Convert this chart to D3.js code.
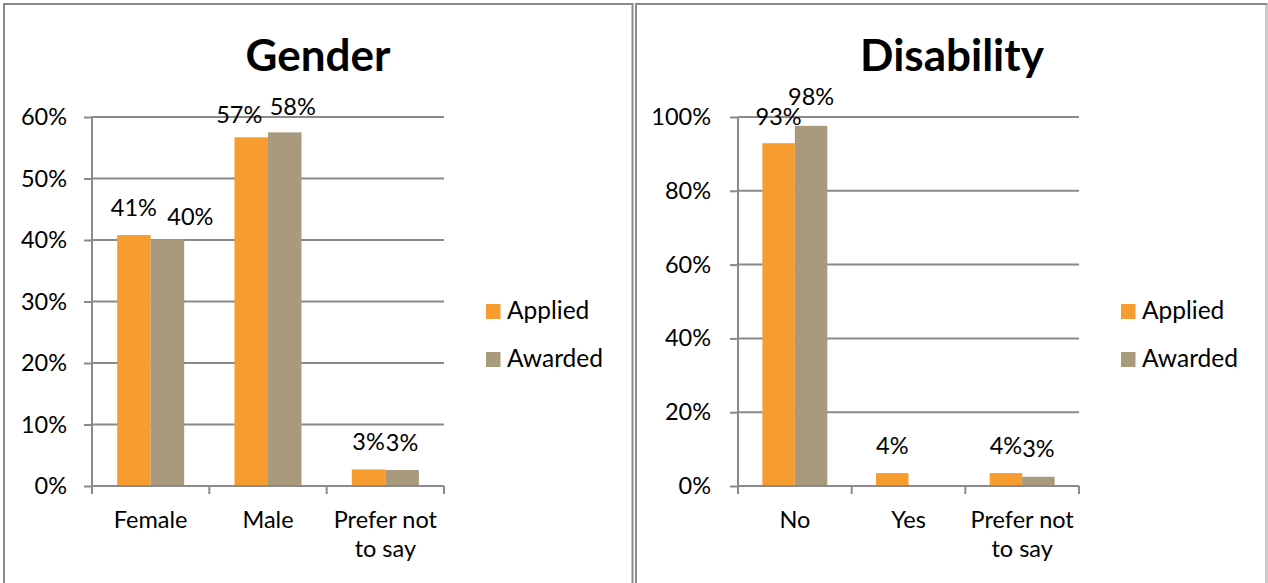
<!DOCTYPE html>
<html>
<head>
<meta charset="utf-8">
<script src="https://cdn.jsdelivr.net/npm/d3@7"></script>
<style>
  body { margin: 0; background: #fff; }
  svg { display: block; font-family: Lato, "Open Sans", sans-serif; }
</style>
</head>
<body>
<svg id="chart" width="1268" height="583"></svg>
<script>
// data
const series = ["Applied", "Awarded"];
const colors = ["#f79c2f", "#a99a7e"];

const genderCats = ["Female", "Male", "Prefer not to say"];
const genderApplied = [40.8, 56.7, 2.7];
const genderAwarded = [40.1, 57.5, 2.6];
const genderTicks = [0, 10, 20, 30, 40, 50, 60];

const disabilityCats = ["No", "Yes", "Prefer not to say"];
const disabilityApplied = [92.9, 3.5, 3.5];
const disabilityAwarded = [97.6, null, 2.5];
const disabilityTicks = [0, 20, 40, 60, 80, 100];

const svg = d3.select("#chart");
const gridColor = "#8a8a8a";

// frames round each chart
svg.append("rect").attr("x", 4).attr("y", 4).attr("width", 628.5).attr("height", 620)
  .attr("fill", "none").attr("stroke", gridColor).attr("stroke-width", 2);
svg.append("path").attr("d", "M636,620V4H1266.5V620")
  .attr("fill", "none").attr("stroke", gridColor).attr("stroke-width", 2);
svg.append("line").attr("x1", 1266.5).attr("x2", 1266.5).attr("y1", 5).attr("y2", 620)
  .attr("stroke", "#cfcfcf").attr("stroke-width", 2);

function wrap(text, width) {
  text.each(function () {
    const t = d3.select(this);
    const words = t.text().split(/\s+/);
    const y = t.attr("y"), dy = parseFloat(t.attr("dy"));
    let line = [], lineNo = 0;
    let tspan = t.text(null).append("tspan").attr("x", 0).attr("y", y).attr("dy", dy + "em");
    words.forEach(w => {
      line.push(w);
      tspan.text(line.join(" "));
      if (tspan.node().getComputedTextLength() > width && line.length > 1) {
        line.pop();
        tspan.text(line.join(" "));
        line = [w];
        tspan = t.append("tspan").attr("x", 0).attr("y", y)
          .attr("dy", (++lineNo * 1.24 + dy) + "em").text(w);
      }
    });
  });
}

function drawChart(cfg) {
  const g = svg.append("g");
  const rows = cfg.cats.map((c, i) => ({ cat: c, vals: [cfg.applied[i], cfg.awarded[i]] }));

  const x = d3.scaleBand().domain(cfg.cats).range([cfg.left, cfg.right]);
  const xs = d3.scaleBand().domain(series).range([0, x.bandwidth()]).paddingOuter(0.75);
  const y = d3.scaleLinear().domain([0, d3.max(cfg.ticks)]).range([cfg.bottom, cfg.top]);

  // gridlines
  g.selectAll(".grid").data(cfg.ticks.slice(1)).join("line")
    .attr("x1", cfg.left).attr("x2", cfg.right)
    .attr("y1", d => y(d)).attr("y2", d => y(d))
    .attr("stroke", gridColor).attr("stroke-width", 2);

  // bars
  const grp = g.selectAll(".cat").data(rows).join("g")
    .attr("transform", d => `translate(${x(d.cat)},0)`);
  grp.selectAll("rect").data(d => d.vals.map((v, j) => ({ v, s: series[j], j })).filter(d => d.v != null))
    .join("rect")
    .attr("x", d => xs(d.s)).attr("width", xs.bandwidth())
    .attr("y", d => y(d.v)).attr("height", d => y(0) - y(d.v))
    .attr("fill", d => colors[d.j]);

  // value labels
  grp.selectAll(".lbl").data((d, i) => d.vals.map((v, j) => ({ v, s: series[j], n: cfg.nudge[i][j] })).filter(d => d.v != null))
    .join("text")
    .attr("x", d => xs(d.s) + xs.bandwidth() / 2 + d.n[0])
    .attr("y", d => y(d.v) - 19.5 + d.n[1])
    .attr("text-anchor", "middle")
    .attr("font-size", 23.5).attr("fill", "#000")
    .text(d => Math.round(d.v) + "%");

  // y axis
  const ya = g.append("g").attr("transform", `translate(${cfg.left},0)`)
    .call(d3.axisLeft(y).tickValues(cfg.ticks).tickSize(8).tickPadding(cfg.tickPad).tickFormat(d => d + "%"))
    .attr("font-family", null).attr("font-size", 23.5);
  ya.select(".domain").attr("stroke", gridColor).attr("stroke-width", 2).attr("d", `M0,${cfg.top}V${cfg.bottom}`);
  ya.selectAll(".tick line").attr("stroke", gridColor).attr("stroke-width", 2);
  ya.selectAll("text").attr("fill", "#000");

  // x axis
  const xa = g.append("g").attr("transform", `translate(0,${cfg.bottom})`)
    .call(d3.axisBottom(x).tickSize(0).tickPadding(25))
    .attr("font-family", null).attr("font-size", 23.5);
  xa.select(".domain").attr("stroke", gridColor).attr("stroke-width", 2)
    .attr("d", `M${cfg.left},0H${cfg.right}`);
  xa.selectAll("text").attr("fill", "#000").call(wrap, x.bandwidth());
  const bounds = cfg.cats.map(c => x(c)).concat([cfg.right]);
  xa.selectAll(".bnd").data(bounds).join("line")
    .attr("x1", d => d).attr("x2", d => d).attr("y1", 0).attr("y2", 8)
    .attr("stroke", gridColor).attr("stroke-width", 2);

  // title
  g.append("text").attr("x", cfg.cx).attr("y", 71).attr("text-anchor", "middle")
    .attr("font-size", 44).attr("font-weight", "bold").text(cfg.title);

  // legend
  const lg = g.selectAll(".leg").data(series).join("g")
    .attr("transform", (d, i) => `translate(${cfg.legX},${304 + i * 48})`);
  lg.append("rect").attr("width", 14.5).attr("height", 15).attr("fill", (d, i) => colors[i]);
  lg.append("text").attr("x", 21).attr("y", 15).attr("font-size", 24.5).text(d => d);
}

drawChart({
  title: "Gender", cats: genderCats, applied: genderApplied, awarded: genderAwarded,
  ticks: genderTicks, left: 92, right: 444, top: 117, bottom: 486, tickPad: 17,
  cx: 318, legX: 486,
  nudge: [[[0, 0], [23, 5]], [[-12, 5], [8, 2]], [[0, 0], [0, 0]]]
});

drawChart({
  title: "Disability", cats: disabilityCats, applied: disabilityApplied, awarded: disabilityAwarded,
  ticks: disabilityTicks, left: 738, right: 1079, top: 117, bottom: 486, tickPad: 19,
  cx: 952, legX: 1121,
  nudge: [[[0, 1], [0, -1]], [[0, 0], [0, 0]], [[0, 0], [0, 0]]]
});
</script>
</body>
</html>
